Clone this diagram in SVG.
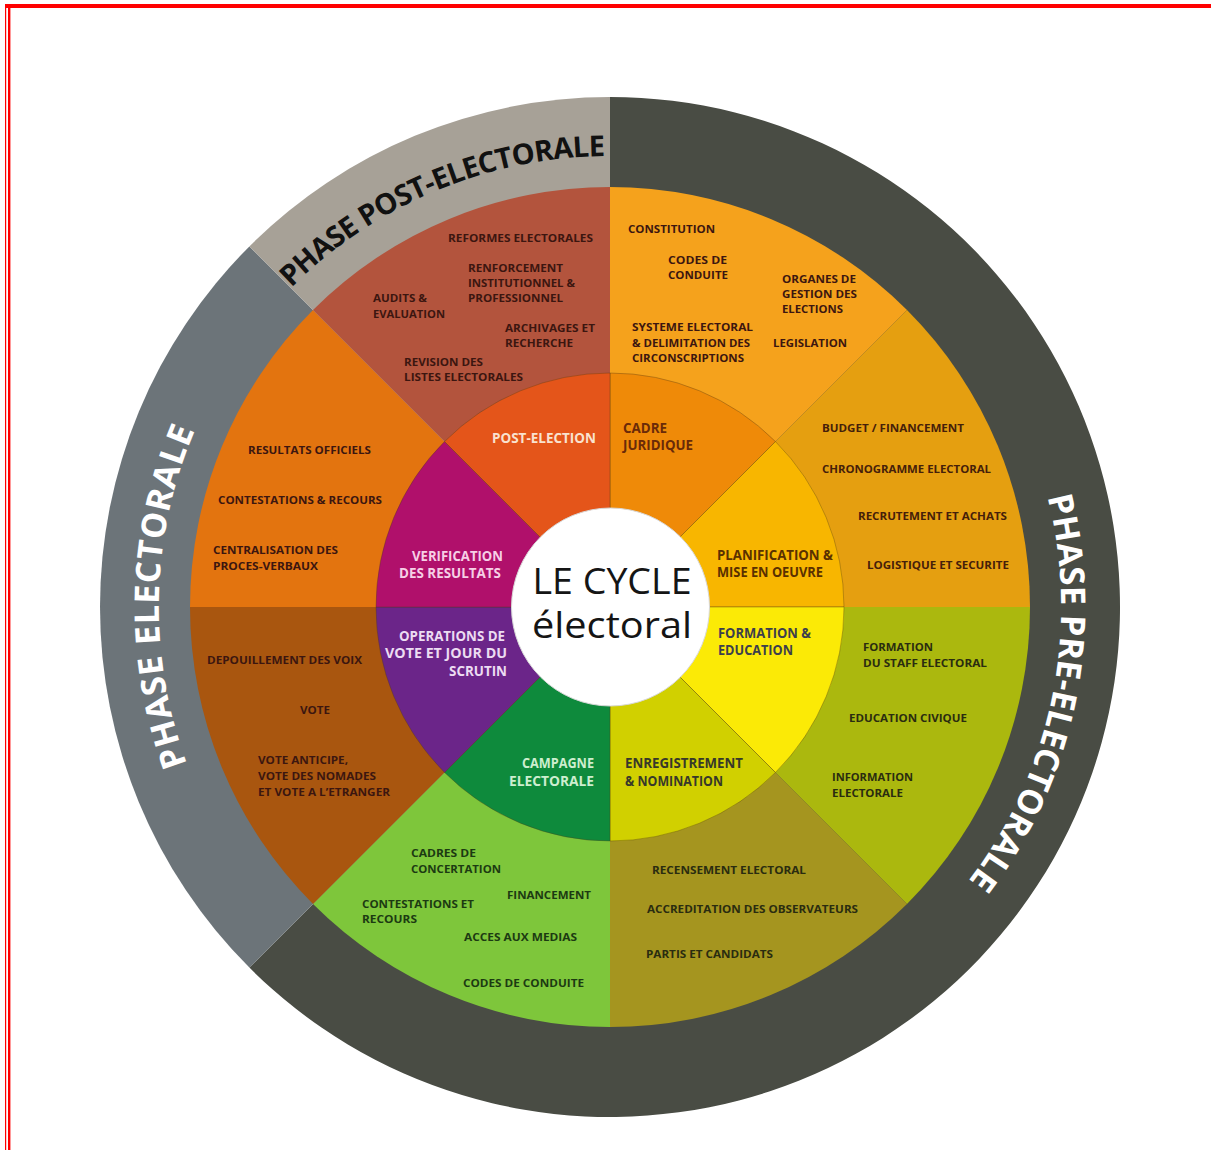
<svg xmlns="http://www.w3.org/2000/svg" xmlns:xlink="http://www.w3.org/1999/xlink" width="1211" height="1150" viewBox="0 0 1211 1150">
  <defs>
    <style>
      .lbl { font-family: "Open Sans", "Liberation Sans", sans-serif; font-weight: 700; font-size: 11px; }
      .inner { font-family: "Open Sans", "Liberation Sans", sans-serif; font-weight: 700; font-size: 13.5px; }
      .phase { font-family: "Open Sans", "Liberation Sans", sans-serif; font-weight: 700; font-size: 34px; }
      .core { font-family: "Open Sans", "Liberation Sans", sans-serif; font-weight: 400; font-size: 37px; fill: #151515; }
      .brown { fill: #3c1610; }
      .gold { fill: #45200a; }
      .olive { fill: #2a2c10; }
      .green { fill: #1c3a12; }
      .sector { stroke: rgba(80, 60, 20, 0.45); stroke-width: 0.8; }
      .frame { fill: #ff0000; }
    </style>
    <!-- clockwise circle used by the three phase titles, starting at the bottom -->
    <path id="phaseArc" d="M610,1058 A451,451 0 1,1 610,156 A451,451 0 1,1 610,1058" fill="none"/>
  </defs>

  <rect width="1211" height="1150" fill="#ffffff"/>

  <!-- page frame -->
  <g id="frame">
    <rect class="frame" x="5" y="4" width="1206" height="4"/>
    <rect class="frame" x="5" y="4" width="1.2" height="1146"/>
    <rect class="frame" x="8" y="4" width="2.4" height="1146"/>
  </g>

  <!-- outer phase band -->
  <g id="phase-pre">
    <path d="M610,607 L610,97 A510,510 0 1,1 249.38,967.62 Z" fill="#494c44"/>
    <text class="phase" fill="#ffffff"><textPath xlink:href="#phaseArc" href="#phaseArc" startOffset="2014" textLength="406" lengthAdjust="spacing">PHASE PRE-ELECTORALE</textPath></text>
  </g>
  <g id="phase-electorale">
    <path d="M610,607 L249.38,967.62 A510,510 0 0,1 249.38,246.38 Z" fill="#6c7479"/>
    <text class="phase" fill="#ffffff"><textPath xlink:href="#phaseArc" href="#phaseArc" startOffset="548" textLength="342" lengthAdjust="spacing">PHASE ELECTORALE</textPath></text>
  </g>
  <g id="phase-post">
    <path d="M610,607 L249.38,246.38 A510,510 0 0,1 610,97 Z" fill="#a7a197"/>
    <text class="phase" fill="#111111" style="font-size:29px"><textPath xlink:href="#phaseArc" href="#phaseArc" startOffset="1063" textLength="349" lengthAdjust="spacing">PHASE POST-ELECTORALE</textPath></text>
  </g>

  <!-- outer activity segments -->
  <g id="seg-cadre">
    <path d="M610,607 L610,187 A420,420 0 0,1 906.99,310.01 Z" fill="#f5a21c"/>
    <g class="lbl brown">
      <text x="628" y="233" textLength="87" lengthAdjust="spacingAndGlyphs">CONSTITUTION</text>
      <text x="668" y="264" textLength="59" lengthAdjust="spacingAndGlyphs">CODES DE</text>
      <text x="668" y="279" textLength="60" lengthAdjust="spacingAndGlyphs">CONDUITE</text>
      <text x="782" y="283" textLength="74" lengthAdjust="spacingAndGlyphs">ORGANES DE</text>
      <text x="782" y="298" textLength="75" lengthAdjust="spacingAndGlyphs">GESTION DES</text>
      <text x="782" y="313" textLength="61" lengthAdjust="spacingAndGlyphs">ELECTIONS</text>
      <text x="632" y="331" textLength="121" lengthAdjust="spacingAndGlyphs">SYSTEME ELECTORAL</text>
      <text x="632" y="347" textLength="118" lengthAdjust="spacingAndGlyphs">&amp; DELIMITATION DES</text>
      <text x="632" y="362" textLength="112" lengthAdjust="spacingAndGlyphs">CIRCONSCRIPTIONS</text>
      <text x="773" y="347" textLength="74" lengthAdjust="spacingAndGlyphs">LEGISLATION</text>
    </g>
  </g>
  <g id="seg-planification">
    <path d="M610,607 L906.99,310.01 A420,420 0 0,1 1030,607 Z" fill="#e59f10"/>
    <g class="lbl gold">
      <text x="822" y="432" textLength="142" lengthAdjust="spacingAndGlyphs">BUDGET /  FINANCEMENT</text>
      <text x="822" y="473" textLength="169" lengthAdjust="spacingAndGlyphs">CHRONOGRAMME ELECTORAL</text>
      <text x="858" y="520" textLength="149" lengthAdjust="spacingAndGlyphs">RECRUTEMENT ET ACHATS</text>
      <text x="867" y="569" textLength="142" lengthAdjust="spacingAndGlyphs">LOGISTIQUE ET SECURITE</text>
    </g>
  </g>
  <g id="seg-formation">
    <path d="M610,607 L1030,607 A420,420 0 0,1 906.99,903.99 Z" fill="#abb80e"/>
    <g class="lbl olive">
      <text x="863" y="651" textLength="70" lengthAdjust="spacingAndGlyphs">FORMATION</text>
      <text x="863" y="667" textLength="124" lengthAdjust="spacingAndGlyphs">DU STAFF ELECTORAL</text>
      <text x="849" y="722" textLength="118" lengthAdjust="spacingAndGlyphs">EDUCATION CIVIQUE</text>
      <text x="832" y="781" textLength="81" lengthAdjust="spacingAndGlyphs">INFORMATION</text>
      <text x="832" y="797" textLength="71" lengthAdjust="spacingAndGlyphs">ELECTORALE</text>
    </g>
  </g>
  <g id="seg-enregistrement">
    <path d="M610,607 L906.99,903.99 A420,420 0 0,1 610,1027 Z" fill="#a5951f"/>
    <g class="lbl olive">
      <text x="652" y="874" textLength="154" lengthAdjust="spacingAndGlyphs">RECENSEMENT ELECTORAL</text>
      <text x="647" y="913" textLength="211" lengthAdjust="spacingAndGlyphs">ACCREDITATION DES OBSERVATEURS</text>
      <text x="646" y="958" textLength="127" lengthAdjust="spacingAndGlyphs">PARTIS ET CANDIDATS</text>
    </g>
  </g>
  <g id="seg-campagne">
    <path d="M610,607 L610,1027 A420,420 0 0,1 313.01,903.99 Z" fill="#7ec63b"/>
    <g class="lbl green">
      <text x="411" y="857" textLength="65" lengthAdjust="spacingAndGlyphs">CADRES DE</text>
      <text x="411" y="873" textLength="90" lengthAdjust="spacingAndGlyphs">CONCERTATION</text>
      <text x="507" y="899" textLength="84" lengthAdjust="spacingAndGlyphs">FINANCEMENT</text>
      <text x="362" y="908" textLength="112" lengthAdjust="spacingAndGlyphs">CONTESTATIONS ET</text>
      <text x="362" y="923" textLength="55" lengthAdjust="spacingAndGlyphs">RECOURS</text>
      <text x="464" y="941" textLength="113" lengthAdjust="spacingAndGlyphs">ACCES AUX MEDIAS</text>
      <text x="463" y="987" textLength="121" lengthAdjust="spacingAndGlyphs">CODES DE CONDUITE</text>
    </g>
  </g>
  <g id="seg-vote">
    <path d="M610,607 L313.01,903.99 A420,420 0 0,1 190,607 Z" fill="#a9560f"/>
    <g class="lbl brown">
      <text x="207" y="664" textLength="155" lengthAdjust="spacingAndGlyphs">DEPOUILLEMENT DES VOIX</text>
      <text x="300" y="714" textLength="30" lengthAdjust="spacingAndGlyphs">VOTE</text>
      <text x="258" y="764" textLength="90" lengthAdjust="spacingAndGlyphs">VOTE ANTICIPE,</text>
      <text x="258" y="780" textLength="118" lengthAdjust="spacingAndGlyphs">VOTE DES NOMADES</text>
      <text x="258" y="796" textLength="132" lengthAdjust="spacingAndGlyphs">ET VOTE A L’ETRANGER</text>
    </g>
  </g>
  <g id="seg-verification">
    <path d="M610,607 L190,607 A420,420 0 0,1 313.01,310.01 Z" fill="#e3740f"/>
    <g class="lbl brown">
      <text x="248" y="454" textLength="123" lengthAdjust="spacingAndGlyphs">RESULTATS OFFICIELS</text>
      <text x="218" y="504" textLength="164" lengthAdjust="spacingAndGlyphs">CONTESTATIONS &amp; RECOURS</text>
      <text x="213" y="554" textLength="125" lengthAdjust="spacingAndGlyphs">CENTRALISATION DES</text>
      <text x="213" y="570" textLength="105" lengthAdjust="spacingAndGlyphs">PROCES-VERBAUX</text>
    </g>
  </g>
  <g id="seg-post-election">
    <path d="M610,607 L313.01,310.01 A420,420 0 0,1 610,187 Z" fill="#b3543d"/>
    <g class="lbl brown">
      <text x="448" y="242" textLength="145" lengthAdjust="spacingAndGlyphs">REFORMES ELECTORALES</text>
      <text x="468" y="272" textLength="95" lengthAdjust="spacingAndGlyphs">RENFORCEMENT</text>
      <text x="468" y="287" textLength="107" lengthAdjust="spacingAndGlyphs">INSTITUTIONNEL &amp;</text>
      <text x="468" y="302" textLength="95" lengthAdjust="spacingAndGlyphs">PROFESSIONNEL</text>
      <text x="373" y="302" textLength="54" lengthAdjust="spacingAndGlyphs">AUDITS &amp;</text>
      <text x="373" y="318" textLength="72" lengthAdjust="spacingAndGlyphs">EVALUATION</text>
      <text x="505" y="332" textLength="90" lengthAdjust="spacingAndGlyphs">ARCHIVAGES ET</text>
      <text x="505" y="347" textLength="68" lengthAdjust="spacingAndGlyphs">RECHERCHE</text>
      <text x="404" y="366" textLength="79" lengthAdjust="spacingAndGlyphs">REVISION DES</text>
      <text x="404" y="381" textLength="119" lengthAdjust="spacingAndGlyphs">LISTES ELECTORALES</text>
    </g>
  </g>

  <!-- inner stages of the cycle -->
  <g id="stage-cadre-juridique">
    <path class="sector" d="M610,607 L610,373 A234,234 0 0,1 775.46,441.54 Z" fill="#ef8a08"/>
    <g class="inner" fill="#6a2a08">
      <text x="623" y="433" textLength="44" lengthAdjust="spacingAndGlyphs">CADRE</text>
      <text x="623" y="450" textLength="70" lengthAdjust="spacingAndGlyphs">JURIDIQUE</text>
    </g>
  </g>
  <g id="stage-planification">
    <path class="sector" d="M610,607 L775.46,441.54 A234,234 0 0,1 844,607 Z" fill="#f8b600"/>
    <g class="inner" fill="#5a3000">
      <text x="717" y="560" textLength="116" lengthAdjust="spacingAndGlyphs">PLANIFICATION &amp;</text>
      <text x="717" y="577" textLength="106" lengthAdjust="spacingAndGlyphs">MISE EN OEUVRE</text>
    </g>
  </g>
  <g id="stage-formation">
    <path class="sector" d="M610,607 L844,607 A234,234 0 0,1 775.46,772.46 Z" fill="#fbea06"/>
    <g class="inner" fill="#3c3f4c">
      <text x="718" y="638" textLength="93" lengthAdjust="spacingAndGlyphs">FORMATION &amp;</text>
      <text x="718" y="655" textLength="75" lengthAdjust="spacingAndGlyphs">EDUCATION</text>
    </g>
  </g>
  <g id="stage-enregistrement">
    <path class="sector" d="M610,607 L775.46,772.46 A234,234 0 0,1 610,841 Z" fill="#d1d000"/>
    <g class="inner" fill="#37382a">
      <text x="625" y="768" textLength="118" lengthAdjust="spacingAndGlyphs">ENREGISTREMENT</text>
      <text x="625" y="786" textLength="98" lengthAdjust="spacingAndGlyphs">&amp; NOMINATION</text>
    </g>
  </g>
  <g id="stage-campagne">
    <path class="sector" d="M610,607 L610,841 A234,234 0 0,1 444.54,772.46 Z" fill="#0e8a3c"/>
    <g class="inner" fill="#cdeecf" text-anchor="end">
      <text x="594" y="768" textLength="72" lengthAdjust="spacingAndGlyphs">CAMPAGNE</text>
      <text x="594" y="786" textLength="85" lengthAdjust="spacingAndGlyphs">ELECTORALE</text>
    </g>
  </g>
  <g id="stage-operations">
    <path class="sector" d="M610,607 L444.54,772.46 A234,234 0 0,1 376,607 Z" fill="#6b2589"/>
    <g class="inner" fill="#ecdcf2" text-anchor="end">
      <text x="505" y="641" textLength="106" lengthAdjust="spacingAndGlyphs">OPERATIONS DE</text>
      <text x="507" y="658" textLength="122" lengthAdjust="spacingAndGlyphs">VOTE ET JOUR DU</text>
      <text x="507" y="676" textLength="58" lengthAdjust="spacingAndGlyphs">SCRUTIN</text>
    </g>
  </g>
  <g id="stage-verification">
    <path class="sector" d="M610,607 L376,607 A234,234 0 0,1 444.54,441.54 Z" fill="#b0106b"/>
    <g class="inner" fill="#f6cfe6" text-anchor="end">
      <text x="503" y="561" textLength="91" lengthAdjust="spacingAndGlyphs">VERIFICATION</text>
      <text x="501" y="578" textLength="102" lengthAdjust="spacingAndGlyphs">DES RESULTATS</text>
    </g>
  </g>
  <g id="stage-post-election">
    <path class="sector" d="M610,607 L444.54,441.54 A234,234 0 0,1 610,373 Z" fill="#e4551a"/>
    <text class="inner" fill="#f9e2cf" x="492" y="443" textLength="104" lengthAdjust="spacingAndGlyphs">POST-ELECTION</text>
  </g>

  <!-- hub -->
  <g id="hub">
    <circle cx="610.5" cy="607" r="99" fill="#ffffff" stroke="#d8d8d8" stroke-width="1"/>
    <text class="core" x="612" y="594" text-anchor="middle" textLength="159" lengthAdjust="spacingAndGlyphs">LE CYCLE</text>
    <text class="core" x="612" y="638" text-anchor="middle" textLength="160" lengthAdjust="spacingAndGlyphs">électoral</text>
  </g>
</svg>
